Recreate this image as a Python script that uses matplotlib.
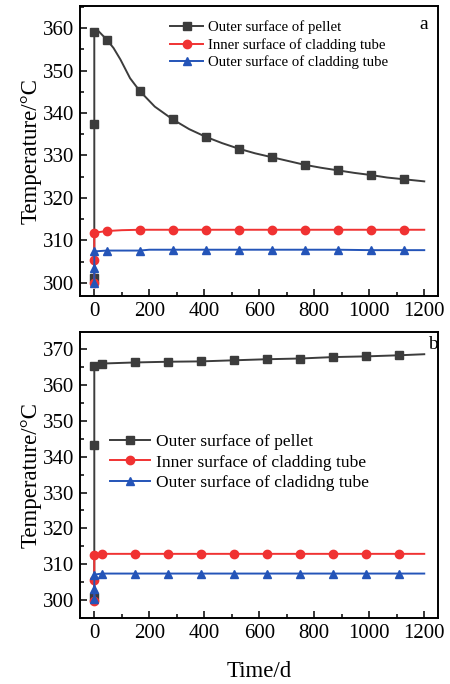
import matplotlib
matplotlib.use("Agg")
import matplotlib.pyplot as plt
from matplotlib.ticker import MultipleLocator

plt.rcParams['font.family'] = ['Liberation Serif', 'DejaVu Serif']

# ---------------- Panel a data ----------------
a_pellet_x = [0, 0, 0, 0, 9, 45, 70, 95, 130, 165, 220, 285, 345, 405, 465, 525, 585,
              645, 705, 765, 825, 885, 945, 1005, 1065, 1125, 1200]
a_pellet_y = [300.0, 301.2, 337.3, 359.0, 359.7, 357.3, 355.3, 352.6, 348.2, 345.2, 341.5,
              338.5, 336.2, 334.4, 332.9, 331.6, 330.5, 329.6, 328.7, 327.8, 327.1, 326.5,
              325.9, 325.4, 324.8, 324.4, 323.9]
a_pellet_marks = [1, 2, 3, 5, 9, 11, 13, 15, 17, 19, 21, 23, 25]

a_inner_x = [0, 0, 0, 45, 100, 165, 285, 405, 525, 645, 765, 885, 1005, 1125, 1200]
a_inner_y = [300.0, 305.3, 311.8, 312.2, 312.4, 312.5, 312.5, 312.5, 312.5, 312.5, 312.5,
             312.5, 312.5, 312.5, 312.5]
a_inner_marks = [0, 1, 2, 3, 5, 6, 7, 8, 9, 10, 11, 12, 13]

a_outer_x = [0, 0, 0, 45, 165, 200, 285, 405, 525, 645, 765, 885, 1005, 1125, 1200]
a_outer_y = [300.0, 303.5, 307.4, 307.6, 307.6, 307.8, 307.8, 307.8, 307.8, 307.8, 307.8,
             307.8, 307.7, 307.7, 307.7]
a_outer_marks = [0, 1, 2, 3, 4, 6, 7, 8, 9, 10, 11, 12, 13]

# ---------------- Panel b data ----------------
b_pellet_x = [0, 0, 0, 0, 28, 147, 267, 387, 507, 627, 747, 868, 988, 1108, 1200]
b_pellet_y = [300.0, 300.9, 343.2, 365.3, 366.0, 366.3, 366.5, 366.6, 366.9, 367.2, 367.4,
              367.8, 368.0, 368.3, 368.6]
b_pellet_marks = [1, 2, 3, 4, 5, 6, 7, 8, 9, 10, 11, 12, 13]

b_inner_x = [0, 0, 0, 28, 147, 267, 387, 507, 627, 747, 868, 988, 1108, 1200]
b_inner_y = [299.7, 305.6, 312.6, 312.9, 312.9, 312.9, 312.9, 312.9, 312.9, 312.9, 312.9,
             312.9, 312.9, 312.9]
b_inner_marks = list(range(13))

b_outer_x = [0, 0, 0, 28, 147, 267, 387, 507, 627, 747, 868, 988, 1108, 1200]
b_outer_y = [300.2, 303.2, 307.1, 307.4, 307.4, 307.4, 307.4, 307.4, 307.4, 307.4, 307.4,
             307.4, 307.4, 307.4]
b_outer_marks = list(range(13))

labels_a = ["Outer surface of pellet", "Inner surface of cladding tube",
            "Outer surface of cladding tube"]
labels_b = ["Outer surface of pellet", "Inner surface of cladding tube",
            "Outer surface of cladidng tube"]

x_ticks = [0, 200, 400, 600, 800, 1000, 1200]
a_yticks = [300, 310, 320, 330, 340, 350, 360]
b_yticks = [300, 310, 320, 330, 340, 350, 360, 370]

C_GRAY = "#3c3c3c"
C_RED = "#f03232"
C_BLUE = "#2454b8"

fig = plt.figure(figsize=(4.5, 6.84), dpi=100)
ax_a = fig.add_axes([80/450, 1-296/684, 358/450, 290/684])
ax_b = fig.add_axes([80/450, 1-618/684, 358/450, 286/684])


def draw(ax, data, labels):
    styles = [(C_GRAY, 's'), (C_RED, 'o'), (C_BLUE, '^')]
    for (x, y, m), lab, (c, mk) in zip(data, labels, styles):
        ax.plot(x, y, color=c, lw=1.4, marker=mk, markevery=m, markersize=6,
                markerfacecolor=c, markeredgecolor=c, label=lab)
    ax.set_xlim(-52, 1250)
    ax.set_xticks(x_ticks)
    ax.xaxis.set_minor_locator(MultipleLocator(100))
    ax.yaxis.set_minor_locator(MultipleLocator(5))
    ax.tick_params(which='both', direction='in', top=False, right=False,
                   labelsize=15, width=1.1, pad=4)
    ax.tick_params(which='major', length=5)
    ax.tick_params(which='minor', length=3)
    for s in ax.spines.values():
        s.set_linewidth(1.4)
    ax.set_ylabel("Temperature/°C", fontsize=16.5, labelpad=1)


draw(ax_a, [(a_pellet_x, a_pellet_y, a_pellet_marks),
            (a_inner_x, a_inner_y, a_inner_marks),
            (a_outer_x, a_outer_y, a_outer_marks)], labels_a)
ax_a.set_ylim(296.9, 365.2)
ax_a.set_yticks(a_yticks)
ax_a.legend(loc='upper left', bbox_to_anchor=(0.215, 0.995), frameon=False, fontsize=10.6,
            handlelength=2.25, handletextpad=0.35, labelspacing=0.25, borderaxespad=0.5)
ax_a.text(0.96, 0.965, "a", transform=ax_a.transAxes, fontsize=14, ha='center', va='top')

draw(ax_b, [(b_pellet_x, b_pellet_y, b_pellet_marks),
            (b_inner_x, b_inner_y, b_inner_marks),
            (b_outer_x, b_outer_y, b_outer_marks)], labels_b)
ax_b.set_ylim(295.0, 374.8)
ax_b.set_yticks(b_yticks)
ax_b.legend(loc='upper left', bbox_to_anchor=(0.04, 0.7), frameon=False, fontsize=12.6,
            handlelength=2.3, handletextpad=0.3, labelspacing=0.26)
ax_b.text(0.985, 0.985, "b", transform=ax_b.transAxes, fontsize=14, ha='center', va='top')
ax_b.set_xlabel("Time/d", fontsize=16.5, labelpad=13)

fig.savefig("out.png", dpi=100)
